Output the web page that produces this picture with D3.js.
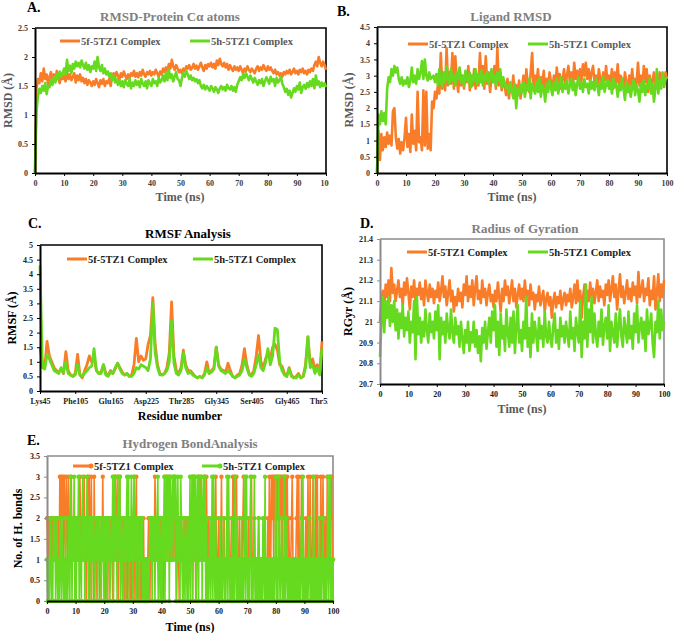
<!DOCTYPE html>
<html>
<head>
<meta charset="utf-8">
<script src="https://cdn.jsdelivr.net/npm/d3@7"></script>
<style>
  body { margin: 0; background: #fff; }
  svg text { font-family: "Liberation Serif", "Times New Roman", serif; font-weight: bold; }
</style>
</head>
<body>
<svg id="fig" width="675" height="633"></svg>
<script>
// ---- data ----
const seriesNames = ["5f-5TZ1 Complex", "5h-5TZ1 Complex"];
const timeStep = 0.5;   // ns between frames (A, B, D)
const hbondStep = 0.25; // ns between frames (E)

// A. RMSD protein C-alpha
const rmsdProt5f = [
  0, 1.45, 1.62, 1.55, 1.72, 1.58, 1.8, 1.62, 1.7, 1.52,
  1.66, 1.74, 1.58, 1.7, 1.6, 1.76, 1.64, 1.55, 1.7, 1.62,
  1.68, 1.58, 1.74, 1.62, 1.7, 1.6, 1.66, 1.72, 1.56, 1.68,
  1.6, 1.7, 1.58, 1.64, 1.55, 1.62, 1.52, 1.6, 1.56, 1.5,
  1.58, 1.52, 1.62, 1.55, 1.48, 1.6, 1.54, 1.62, 1.5, 1.58,
  1.55, 1.62, 1.5, 1.66, 1.72, 1.65, 1.74, 1.68, 1.6, 1.72,
  1.66, 1.75, 1.68, 1.62, 1.7, 1.64, 1.72, 1.68, 1.76, 1.66,
  1.72, 1.65, 1.74, 1.68, 1.78, 1.7, 1.66, 1.74, 1.7, 1.76,
  1.68, 1.74, 1.7, 1.78, 1.72, 1.66, 1.75, 1.7, 1.8, 1.74,
  1.82, 1.76, 1.88, 1.8, 1.95, 1.84, 1.78, 1.86, 1.8, 1.74,
  1.78, 1.72, 1.8, 1.76, 1.84, 1.8, 1.86, 1.78, 1.82, 1.88,
  1.8, 1.85, 1.78, 1.84, 1.9, 1.82, 1.76, 1.86, 1.8, 1.88,
  1.84, 1.9, 1.82, 1.88, 1.8, 1.94, 1.86, 1.97, 1.88, 1.84,
  1.9, 1.82, 1.88, 1.78, 1.86, 1.8, 1.76, 1.84, 1.78, 1.82,
  1.76, 1.84, 1.78, 1.72, 1.8, 1.76, 1.84, 1.78, 1.74, 1.8,
  1.76, 1.72, 1.8, 1.84, 1.76, 1.82, 1.78, 1.86, 1.8, 1.76,
  1.84, 1.78, 1.82, 1.76, 1.72, 1.78, 1.7, 1.74, 1.68, 1.72,
  1.66, 1.74, 1.7, 1.76, 1.72, 1.78, 1.7, 1.74, 1.8, 1.72,
  1.76, 1.7, 1.78, 1.74, 1.8, 1.72, 1.76, 1.7, 1.78, 1.74,
  1.8, 1.76, 1.86, 1.92, 1.84, 2.0, 1.9, 1.84, 1.92, 1.86,
  1.78
];
const rmsdProt5h = [
  0, 1.05, 1.32, 1.45, 1.38, 1.5, 1.42, 1.55, 1.36, 1.5,
  1.48, 1.6, 1.52, 1.65, 1.56, 1.7, 1.62, 1.75, 1.66, 1.72,
  1.8, 1.7, 1.95, 1.76, 1.85, 1.72, 1.88, 1.8, 1.92, 1.84,
  1.9, 1.82, 1.94, 1.86, 1.8, 1.9, 1.78, 1.86, 1.74, 1.84,
  1.8, 1.92, 1.76, 2.0, 1.82, 1.76, 1.86, 1.72, 1.8, 1.7,
  1.75, 1.66, 1.72, 1.6, 1.68, 1.56, 1.62, 1.52, 1.6, 1.5,
  1.58, 1.48, 1.6, 1.54, 1.5, 1.62, 1.46, 1.56, 1.5, 1.6,
  1.52, 1.58, 1.48, 1.62, 1.54, 1.5, 1.58, 1.46, 1.6, 1.54,
  1.5, 1.62, 1.55, 1.58, 1.5, 1.64, 1.56, 1.6, 1.68, 1.58,
  1.72, 1.6, 1.78, 1.64, 1.7, 1.58, 1.66, 1.74, 1.62, 1.6,
  1.5, 1.64, 1.72, 1.66, 1.76, 1.7, 1.62, 1.68, 1.6, 1.64,
  1.58, 1.62, 1.55, 1.6, 1.5, 1.46, 1.52, 1.44, 1.5, 1.46,
  1.42, 1.5, 1.46, 1.4, 1.48, 1.44, 1.38, 1.46, 1.5, 1.44,
  1.48, 1.42, 1.52, 1.46, 1.44, 1.5, 1.42, 1.48, 1.4, 1.52,
  1.58, 1.65, 1.6, 1.7, 1.64, 1.72, 1.66, 1.6, 1.68, 1.62,
  1.56, 1.64, 1.58, 1.52, 1.6, 1.55, 1.62, 1.5, 1.58, 1.65,
  1.6, 1.54, 1.66, 1.58, 1.62, 1.5, 1.64, 1.56, 1.6, 1.66,
  1.54, 1.48, 1.4, 1.45, 1.35, 1.42, 1.3, 1.38, 1.46, 1.4,
  1.5, 1.44, 1.56, 1.38, 1.48, 1.52, 1.45, 1.55, 1.48, 1.58,
  1.5, 1.62, 1.46, 1.68, 1.52, 1.58, 1.48, 1.56, 1.5, 1.55,
  1.48
];

// B. Ligand RMSD
const rmsdLig5f = [
  0, 1.3, 0.4, 1.2, 0.7, 1.1, 0.8, 1.25, 0.9, 1.15,
  0.85, 1.9, 2.0, 1.1, 0.75, 1.05, 0.6, 0.95, 0.7, 1.1,
  1.7, 0.8, 1.2, 0.65, 1.8, 0.9, 1.3, 0.7, 2.5, 0.95,
  1.1, 0.7, 2.55, 0.85, 2.5, 0.75, 1.2, 0.7, 2.2, 2.0,
  2.5, 2.3, 2.7, 2.45, 3.7, 2.6, 2.9, 2.55, 3.85, 2.7,
  3.1, 2.75, 3.7, 2.6, 3.6, 2.9, 2.5, 3.2, 2.7, 3.0,
  2.6, 3.1, 2.8, 3.3, 2.55, 3.0, 2.7, 3.2, 2.6, 2.95,
  2.7, 3.7, 2.8, 3.3, 2.6, 3.6, 2.75, 3.1, 2.5, 3.0,
  2.8, 3.3, 2.6, 3.85, 2.7, 3.1, 2.55, 2.9, 2.7, 2.4,
  2.9, 2.3, 2.75, 2.5, 3.0, 2.35, 2.7, 2.45, 2.85, 2.3,
  2.6, 3.0, 2.45, 3.2, 2.7, 2.5, 3.1, 3.7, 2.6, 3.0,
  2.75, 3.2, 2.6, 2.95, 2.7, 3.15, 2.5, 2.9, 2.65, 3.1,
  2.8, 2.6, 3.0, 2.7, 3.25, 2.75, 3.05, 2.6, 2.9, 3.2,
  2.7, 3.0, 3.3, 2.8, 3.1, 2.65, 3.4, 2.9, 3.15, 2.75,
  3.2, 2.85, 3.35, 3.0, 3.4, 2.9, 3.2, 2.8, 3.1, 3.3,
  2.8, 3.0, 2.7, 3.2, 2.9, 2.65, 3.1, 2.85, 3.3, 2.7,
  3.0, 2.75, 3.2, 2.6, 3.1, 2.8, 3.35, 2.7, 3.0, 2.9,
  2.6, 3.1, 2.8, 2.5, 3.0, 2.7, 3.2, 2.6, 2.9, 2.75,
  3.4, 2.7, 3.0, 2.6, 3.3, 2.8, 3.2, 2.5, 3.0, 2.7,
  2.85, 3.1, 2.6, 3.0, 2.7, 3.1, 2.8, 3.05, 2.65, 3.1,
  2.9
];
const rmsdLig5h = [
  0, 1.8, 1.5, 1.9, 1.6, 1.85, 1.5, 2.6, 2.95, 2.8,
  3.2, 3.0, 3.3, 3.1, 3.25, 2.9, 2.75, 2.95, 2.7, 2.85,
  2.75, 2.95, 2.65, 2.85, 3.25, 2.8, 3.0, 2.75, 3.2, 2.9,
  3.1, 3.45, 2.9, 3.5, 3.0, 2.85, 3.1, 2.9, 2.95, 3.0,
  2.8, 3.05, 2.7, 3.2, 2.85, 2.65, 3.1, 2.8, 3.3, 2.9,
  2.75, 3.2, 2.85, 3.0, 2.7, 3.1, 2.9, 3.25, 2.8, 3.0,
  2.7, 3.15, 2.9, 2.8, 3.1, 2.65, 3.0, 2.85, 3.2, 2.75,
  3.05, 2.8, 3.15, 2.7, 3.0, 2.85, 3.1, 2.75, 2.95, 3.2,
  2.8, 3.0, 2.7, 3.1, 2.85, 3.2, 2.65, 2.95, 2.8, 2.6,
  2.7, 2.45, 2.8, 2.55, 2.3, 2.75, 2.0, 2.6, 2.4, 2.7,
  2.5, 2.8, 2.35, 2.7, 2.55, 2.9, 2.3, 2.75, 2.6, 2.45,
  2.8, 2.5, 2.9, 2.35, 2.7, 2.6, 2.2, 2.75, 2.5, 2.85,
  2.6, 2.4, 2.8, 2.55, 2.9, 2.45, 2.7, 2.95, 2.5, 2.75,
  2.6, 2.85, 2.45, 2.7, 2.9, 2.55, 2.8, 2.4, 2.75, 2.95,
  2.6, 2.8, 2.5, 2.9, 2.65, 2.75, 2.45, 2.85, 2.6, 2.8,
  2.55, 2.9, 2.7, 2.4, 2.8, 2.6, 2.95, 2.5, 2.75, 2.85,
  2.6, 2.8, 2.45, 2.9, 2.65, 2.75, 2.35, 2.7, 2.55, 2.9,
  2.6, 2.25, 2.8, 2.5, 2.7, 2.35, 2.65, 2.85, 2.4, 2.7,
  2.55, 2.2, 2.75, 2.5, 2.85, 2.4, 2.7, 2.6, 2.9, 2.45,
  2.75, 2.2, 2.6, 3.2, 2.45, 2.85, 2.6, 3.1, 2.7, 2.9,
  2.95
];

// C. RMSF per residue (every 4th residue from Lys45)
const residueStart = 45, residueStep = 4;
const rmsf5f = [
  1.5, 1.0, 0.8, 1.7, 1.2, 1.0, 0.8, 0.7, 0.65, 0.75,
  0.6, 1.35, 0.7, 0.55, 0.5, 0.6, 1.25, 0.55, 0.45, 0.7,
  0.9, 1.2, 1.0, 1.15, 0.7, 0.6, 0.65, 0.9, 0.6, 0.55,
  0.7, 0.6, 0.75, 0.95, 0.8, 0.65, 0.55, 0.6, 0.5, 0.55,
  0.9, 1.8, 1.0, 1.2, 1.05, 1.1, 1.6, 1.9, 3.2, 1.6,
  0.9, 0.6, 0.55, 0.6, 0.8, 1.3, 3.05, 1.2, 0.7, 0.6,
  0.8, 1.4, 0.9, 0.7, 0.7, 0.6, 0.5, 0.45, 0.5, 0.45,
  0.6, 1.0, 0.6, 0.7, 0.8, 1.5, 0.9, 0.75, 0.7, 0.65,
  0.95, 0.7, 0.5, 0.45, 0.55, 0.6, 0.9, 1.45, 0.9, 0.6,
  0.55, 0.7, 1.2, 1.9, 1.0, 0.8, 1.1, 1.3, 1.1, 1.5,
  1.6, 1.4, 0.9, 0.85, 0.6, 0.5, 0.8, 0.55, 0.45, 0.5,
  0.6, 0.45, 0.5, 0.9, 1.85, 0.9, 1.1, 0.75, 0.9, 0.6,
  1.7
];
const rmsf5h = [
  4.3, 0.8, 0.75, 1.25, 1.1, 0.9, 0.7, 0.65, 0.6, 0.8,
  0.65, 1.0, 0.6, 0.55, 0.5, 0.55, 0.9, 0.55, 0.5, 0.6,
  0.7, 0.8, 0.85, 1.45, 0.7, 0.6, 0.6, 0.9, 0.55, 0.5,
  0.65, 0.6, 0.8, 0.95, 0.75, 0.6, 0.55, 0.6, 0.5, 0.5,
  0.6, 0.8, 0.75, 0.9, 0.85, 0.8, 0.7, 1.1, 3.0, 1.3,
  0.8, 0.55, 0.55, 0.6, 0.7, 1.0, 2.4, 0.95, 0.6, 0.55,
  0.7, 1.3, 0.8, 0.6, 0.65, 0.55, 0.5, 0.45, 0.5, 0.45,
  0.55, 0.8, 0.6, 0.65, 0.75, 1.5, 0.85, 0.7, 0.65, 0.6,
  0.7, 0.6, 0.5, 0.45, 0.5, 0.55, 0.7, 1.1, 0.8, 0.55,
  0.5, 0.6, 0.9, 1.25, 0.8, 0.7, 1.0, 1.45, 0.9, 1.2,
  2.15, 2.1, 1.0, 0.7, 0.55, 0.5, 0.75, 0.5, 0.45, 0.45,
  0.55, 0.45, 0.5, 0.8, 1.85, 0.8, 0.9, 0.6, 0.8, 0.55,
  1.45
];
const residueTicks = [45, 105, 165, 225, 285, 345, 405, 465, 525];
const residueLabels = ["Lys45", "Phe105", "Glu165", "Asp225", "Thr285", "Gly345", "Ser405", "Gly465", "Thr525"];

// D. Radius of gyration
const rgyr5f = [
  21.0, 21.1, 21.15, 21.08, 21.18, 21.12, 21.2, 21.1, 21.26, 21.14,
  21.18, 21.1, 21.15, 21.2, 21.12, 21.16, 21.08, 21.19, 21.13, 21.21,
  21.14, 21.06, 21.17, 21.12, 21.2, 21.1, 21.16, 21.13, 21.19, 21.11,
  21.16, 21.08, 21.2, 21.14, 21.1, 21.18, 21.12, 21.16, 21.09, 21.15,
  21.12, 21.19, 21.1, 21.15, 21.22, 21.12, 21.17, 21.08, 21.14, 21.2,
  21.1, 21.15, 21.05, 21.12, 21.08, 21.16, 21.1, 21.14, 21.07, 21.18,
  21.13, 21.22, 21.1, 21.17, 21.12, 21.2, 21.08, 21.16, 21.22, 21.11,
  21.15, 21.09, 21.2, 21.12, 21.16, 21.08, 21.14, 21.18, 21.1, 21.13,
  21.07, 21.15, 21.1, 21.19, 21.12, 21.05, 21.16, 21.1, 21.2, 21.13,
  21.17, 21.09, 21.14, 21.2, 21.1, 21.16, 21.07, 21.13, 21.18, 21.11,
  21.16, 21.1, 21.2, 21.12, 21.15, 21.08, 21.18, 21.11, 21.14, 21.06,
  21.13, 21.1, 21.17, 21.08, 21.12, 21.15, 21.05, 21.11, 21.14, 21.08,
  21.12, 21.02, 21.1, 21.14, 21.07, 21.12, 21.09, 21.15, 21.06, 21.11,
  21.14, 21.08, 21.13, 21.1, 21.16, 21.07, 21.12, 21.18, 21.09, 21.2,
  21.1, 21.15, 21.02, 21.12, 21.18, 21.08, 21.15, 21.1, 21.19, 21.12,
  21.16, 21.09, 21.14, 21.2, 21.1, 21.17, 21.12, 21.15, 21.08, 21.18,
  21.13, 21.2, 21.1, 21.16, 21.22, 21.12, 21.18, 21.06, 21.15, 21.23,
  21.12, 21.17, 21.09, 21.14, 21.2, 21.11, 21.16, 21.1, 21.19, 21.13,
  21.17, 21.09, 21.24, 21.12, 21.15, 21.2, 21.1, 21.16, 21.13, 21.21,
  21.08, 21.15, 21.11, 21.22, 21.06, 21.14, 21.23, 21.1, 21.18, 21.12,
  21.2
];
const rgyr5h = [
  20.83, 21.0, 21.12, 20.95, 21.1, 21.02, 21.12, 20.98, 21.08, 21.0,
  21.1, 20.96, 21.06, 20.92, 21.04, 20.97, 21.08, 20.93, 21.02, 20.96,
  21.05, 20.9, 21.0, 20.95, 21.1, 20.82, 21.12, 20.94, 21.02, 20.9,
  21.0, 20.93, 21.06, 20.96, 20.9, 21.04, 20.95, 21.0, 20.92, 21.05,
  20.96, 21.08, 20.82, 21.02, 20.94, 21.0, 20.9, 21.04, 20.96, 20.92,
  21.06, 20.95, 20.9, 21.02, 20.94, 20.98, 20.88, 21.0, 20.92, 20.85,
  20.96, 20.9, 21.0, 20.86, 20.95, 20.9, 21.0, 20.88, 20.96, 20.85,
  20.93, 20.81, 20.97, 20.9, 21.0, 20.87, 20.95, 21.02, 20.9, 21.05,
  20.96, 21.08, 20.88, 21.0, 20.84, 21.04, 20.92, 20.98, 20.86, 21.06,
  20.95, 20.88, 21.02, 20.9, 21.05, 20.85, 20.98, 21.08, 20.9, 20.96,
  20.86, 21.0, 20.92, 21.12, 20.88, 20.97, 20.83, 21.04, 20.9, 21.0,
  20.94, 20.86, 21.02, 20.92, 20.98, 20.88, 21.05, 20.93, 20.9, 21.0,
  20.92, 20.88, 20.98, 21.04, 20.9, 20.96, 20.87, 21.02, 20.93, 20.98,
  20.9, 21.0, 20.94, 20.88, 21.05, 20.92, 20.97, 20.86, 21.02, 20.95,
  20.9, 21.1, 20.83, 21.0, 20.92, 21.18, 20.88, 21.06, 20.95, 21.12,
  20.9, 21.04, 20.94, 20.88, 21.0, 20.93, 21.06, 20.89, 20.98, 21.02,
  20.92, 21.08, 20.86, 21.0, 20.95, 20.9, 21.04, 20.88, 20.98, 21.06,
  20.93, 20.88, 21.02, 20.96, 20.9, 21.05, 20.92, 20.98, 20.87, 21.04,
  20.95, 21.08, 20.9, 20.98, 21.02, 20.92, 21.0, 20.86, 21.06, 20.94,
  20.98, 21.04, 20.9, 20.83, 21.0, 20.95, 21.1, 20.92, 21.06, 20.96,
  21.0
];

// E. Hydrogen bonds (one row = 5 ns)
const hbond5f = [
  2,1,2,0,2,1,2,1,2,1,2,1,2,1,2,1,2,1,3,1,
  3,2,3,1,3,2,1,3,2,1,3,2,1,2,3,1,2,1,2,1,
  2,1,2,1,2,1,3,2,1,2,1,2,3,1,2,0,2,3,1,3,
  0,2,3,1,2,0,3,1,2,1,0,2,1,2,0,1,2,1,3,1,
  0,1,0,2,1,0,2,1,2,1,2,1,0,2,3,1,3,2,1,3,
  0,2,3,1,2,1,2,1,0,1,2,0,1,0,2,1,0,2,0,1,
  0,1,3,0,1,3,0,1,0,2,0,1,0,1,0,2,0,1,0,1,
  0,1,2,1,0,2,1,2,1,2,1,3,2,1,2,1,0,2,1,2,
  1,2,1,0,2,3,1,2,3,1,2,3,1,2,1,2,1,2,3,1,
  2,0,1,2,1,0,2,1,2,1,0,2,1,2,1,2,1,2,1,2,
  1,2,1,3,2,3,1,2,0,2,1,2,3,1,2,3,1,2,1,2,
  3,1,1,3,1,1,2,1,1,1,2,1,1,1,1,2,3,1,1,1,
  2,1,1,1,3,1,1,1,2,0,1,1,1,2,1,1,1,1,2,1,
  3,1,3,1,1,3,1,1,1,2,1,1,1,1,2,3,1,1,1,1,
  1,1,2,1,1,1,3,1,1,1,2,1,0,1,1,1,2,1,1,1,
  1,0,1,1,2,1,1,1,1,2,1,3,1,1,3,2,3,1,3,2,
  3,1,3,2,3,1,3,2,3,1,3,2,3,1,3,2,3,1,2,1,
  1,1,2,3,1,1,1,1,1,2,3,1,3,1,1,1,3,1,1,1,
  1,1,2,1,1,3,1,1,3,1,1,1,3,1,1,1,3,1,3,1,
  1,1,1,3,1,1,3,1,1,2,1,1,3,1,1,1,3,2,3,1,
  1
];
const hbond5h = [
  1,0,1,0,1,2,0,1,0,2,1,2,0,1,2,0,1,0,2,1,
  0,2,1,0,1,0,2,0,1,0,2,1,0,3,2,0,2,1,3,0,
  2,0,2,1,3,0,2,1,0,2,3,1,2,0,2,1,3,2,0,2,
  1,2,0,2,1,2,1,0,2,1,2,0,2,1,2,1,0,2,1,2,
  0,2,1,2,0,2,1,2,0,1,2,1,3,0,2,3,1,2,0,3,
  2,1,3,0,2,1,0,2,1,2,0,2,3,1,3,0,2,1,3,2,
  0,2,3,1,2,0,2,1,2,0,1,2,1,2,0,1,0,1,0,1,
  0,1,0,1,2,1,2,0,2,1,2,0,2,1,2,3,0,2,1,0,
  2,0,2,1,3,0,2,3,1,2,3,0,2,3,1,2,3,1,3,2,
  3,0,2,3,1,2,0,3,2,1,0,2,1,0,2,1,0,2,0,1,
  3,0,2,3,0,2,3,1,3,0,2,3,0,3,1,2,3,0,2,3,
  1,3,0,2,0,1,0,1,2,0,1,3,0,3,1,0,2,0,1,0,
  1,0,2,0,1,0,1,2,0,1,0,1,3,0,3,1,0,1,0,2,
  0,1,0,3,1,0,2,0,1,0,1,0,2,0,1,0,1,3,0,3,
  1,0,1,0,2,3,0,1,0,1,3,0,1,0,1,0,2,0,1,0,
  1,0,2,1,0,3,0,1,0,1,0,1,0,1,0,1,0,1,0,1,
  3,0,1,0,3,1,0,1,2,0,1,0,3,0,1,2,0,1,0,1,
  0,1,0,1,0,1,0,1,0,1,0,1,0,1,0,1,2,0,3,0,
  1,0,1,0,1,0,1,2,0,1,0,1,0,3,0,1,0,1,0,1,
  0,2,0,1,0,1,2,0,1,0,1,0,1,3,0,1,3,0,1,0,
  1
];

// tick values
const timeTicks = [0, 10, 20, 30, 40, 50, 60, 70, 80, 90, 100];
const yTicksA = [0, 0.5, 1, 1.5, 2, 2.5];
const yTicksB = [0, 0.5, 1, 1.5, 2, 2.5, 3, 3.5, 4, 4.5];
const yTicksC = [0, 0.5, 1, 1.5, 2, 2.5, 3, 3.5, 4, 4.5, 5];
const yTicksD = [20.7, 20.8, 20.9, 21, 21.1, 21.2, 21.3, 21.4];
const yTicksE = [0, 0.5, 1, 1.5, 2, 2.5, 3, 3.5];

const ORANGE = "#F97D28";
const GREEN = "#66DA1E";
const GRAY = "#7f7f7f";

const svg = d3.select("#fig");
const defs = svg.append("defs");

const byTime = (arr, step) => arr.map((v, i) => ({ x: i * step, y: v }));
const byResidue = arr => arr.map((v, i) => ({ x: residueStart + i * residueStep, y: v }));

function drawPanel(o) {
    const g = svg.append("g");
    if (o.clipRight) {
        const id = "clip-" + o.letter;
        defs.append("clipPath").attr("id", id)
            .append("rect").attr("x", 0).attr("y", 0).attr("width", o.clipRight).attr("height", 633);
        g.attr("clip-path", `url(#${id})`);
    }

    const x = d3.scaleLinear().domain(o.xDomain).range([o.left, o.right]);
    const y = d3.scaleLinear().domain(o.yDomain).range([o.bottom, o.top]);

    // top / right frame
    g.append("path")
        .attr("d", `M${o.left},${o.top}H${o.right}V${o.bottom}`)
        .attr("fill", "none")
        .attr("stroke", o.frameColor)
        .attr("stroke-width", 1.6);

    // series
    const line = d3.line().x(d => x(d.x)).y(d => y(d.y));
    o.series.forEach((s, k) => {
        const color = k === 0 ? ORANGE : GREEN;
        g.append("path")
            .datum(s)
            .attr("d", line)
            .attr("fill", "none")
            .attr("stroke", color)
            .attr("stroke-width", o.lineWidth)
            .attr("stroke-linejoin", "round");
        if (o.markers) {
            g.append("g").selectAll("circle")
                .data(s)
                .join("circle")
                .attr("cx", d => x(d.x))
                .attr("cy", d => y(d.y))
                .attr("r", 2.2)
                .attr("fill", color);
        }
    });

    // axes
    const fmt = d => String(+d.toFixed(1));
    const yAx = g.append("g")
        .attr("transform", `translate(${o.left},0)`)
        .call(d3.axisLeft(y).tickValues(o.yTicks).tickFormat(fmt).tickSize(3).tickSizeOuter(0).tickPadding(4));
    yAx.select(".domain").attr("stroke", o.yAxisColor).attr("stroke-width", 2);
    yAx.selectAll(".tick line").attr("stroke", o.yAxisColor);

    const xAxis = d3.axisBottom(x).tickValues(o.xTicks).tickSize(3).tickSizeOuter(0).tickPadding(4);
    if (o.xLabels) xAxis.tickFormat((d, i) => o.xLabels[i]);
    const xAx = g.append("g")
        .attr("transform", `translate(0,${o.bottom})`)
        .call(xAxis);
    xAx.select(".domain").attr("stroke", "#000").attr("stroke-width", 2);

    g.selectAll(".tick text")
        .attr("fill", o.tickColor)
        .style("font-size", "8px")
        .style("font-family", "'Liberation Serif', serif")
        .style("font-weight", "bold");

    // panel letter
    svg.append("text")
        .attr("x", o.letterX).attr("y", o.letterY)
        .attr("fill", "#000")
        .style("font-size", "14px")
        .text(o.letter + ".");

    // title
    svg.append("text")
        .attr("x", o.titleX).attr("y", o.titleY)
        .attr("text-anchor", "middle")
        .attr("fill", o.titleColor)
        .style("font-size", "13px")
        .text(o.title);

    // axis labels
    g.append("text")
        .attr("x", o.xLabelX).attr("y", o.xLabelY)
        .attr("text-anchor", "middle")
        .attr("fill", o.xLabelColor)
        .style("font-size", "12px")
        .text(o.xLabel);

    g.append("text")
        .attr("transform", `translate(${o.yLabelX},${(o.top + o.bottom) / 2}) rotate(-90)`)
        .attr("text-anchor", "middle")
        .attr("dy", "0.35em")
        .attr("fill", o.yLabelColor)
        .style("font-size", "12px")
        .text(o.yLabel);

    // legend
    o.legendX.forEach((lx, k) => {
        const color = k === 0 ? ORANGE : GREEN;
        svg.append("line")
            .attr("x1", lx).attr("x2", lx + 20)
            .attr("y1", o.legendY).attr("y2", o.legendY)
            .attr("stroke", color).attr("stroke-width", 3);
        if (o.markers) {
            svg.append("circle").attr("cx", lx + 18).attr("cy", o.legendY).attr("r", 2.5).attr("fill", color);
        }
        svg.append("text")
            .attr("x", lx + 21).attr("y", o.legendY)
            .attr("dy", "0.35em")
            .attr("fill", o.legendColor)
            .style("font-size", "10.5px")
            .text(seriesNames[k]);
    });
}

// A.
drawPanel({
    letter: "A", letterX: 27, letterY: 12,
    title: "RMSD-Protein C\u03b1 atoms", titleX: 170, titleY: 21, titleColor: GRAY,
    left: 35, right: 326, top: 28, bottom: 173, clipRight: 329,
    xDomain: [0, 100], yDomain: [0, 2.5], xTicks: timeTicks, yTicks: yTicksA,
    series: [byTime(rmsdProt5f, timeStep), byTime(rmsdProt5h, timeStep)], lineWidth: 2.6,
    frameColor: "#000", yAxisColor: "#000", tickColor: "#404040",
    xLabel: "Time (ns)", xLabelX: 180, xLabelY: 201, xLabelColor: "#595959",
    yLabel: "RMSD (\u00c5)", yLabelX: 8, yLabelColor: "#595959",
    legendX: [60, 190], legendY: 41, legendColor: "#595959"
});

// B.
drawPanel({
    letter: "B", letterX: 337, letterY: 16,
    title: "Ligand RMSD", titleX: 511, titleY: 21, titleColor: GRAY,
    left: 377, right: 667, top: 27, bottom: 173,
    xDomain: [0, 100], yDomain: [0, 4.5], xTicks: timeTicks, yTicks: yTicksB,
    series: [byTime(rmsdLig5f, timeStep), byTime(rmsdLig5h, timeStep)], lineWidth: 2.6,
    frameColor: "#000", yAxisColor: "#000", tickColor: "#404040",
    xLabel: "Time (ns)", xLabelX: 512, xLabelY: 201, xLabelColor: "#595959",
    yLabel: "RMSD (\u00c5)", yLabelX: 349, yLabelColor: "#595959",
    legendX: [408, 528], legendY: 44, legendColor: "#595959"
});

// C.
drawPanel({
    letter: "C", letterX: 28, letterY: 228,
    title: "RMSF Analysis", titleX: 188, titleY: 238, titleColor: "#000",
    left: 40, right: 322, top: 245, bottom: 391, clipRight: 328,
    xDomain: [45, 525], yDomain: [0, 5], xTicks: residueTicks, xLabels: residueLabels, yTicks: yTicksC,
    series: [byResidue(rmsf5f), byResidue(rmsf5h)], lineWidth: 2.8,
    frameColor: "#000", yAxisColor: "#000", tickColor: "#222",
    xLabel: "Residue number", xLabelX: 180, xLabelY: 420, xLabelColor: "#000",
    yLabel: "RMSF (\u00c5)", yLabelX: 12, yLabelColor: "#000",
    legendX: [67, 193], legendY: 259, legendColor: "#222"
});

// D.
drawPanel({
    letter: "D", letterX: 360, letterY: 228,
    title: "Radius of Gyration", titleX: 525, titleY: 233, titleColor: GRAY,
    left: 380, right: 664, top: 239, bottom: 384,
    xDomain: [0, 100], yDomain: [20.7, 21.4], xTicks: timeTicks, yTicks: yTicksD,
    series: [byTime(rgyr5f, timeStep), byTime(rgyr5h, timeStep)], lineWidth: 2.6,
    frameColor: "#8c8c8c", yAxisColor: "#8c8c8c", tickColor: "#222",
    xLabel: "Time (ns)", xLabelX: 522, xLabelY: 413, xLabelColor: "#595959",
    yLabel: "RGyr (\u00c5)", yLabelX: 348, yLabelColor: "#000",
    legendX: [407, 528], legendY: 252, legendColor: "#222"
});

// E.
drawPanel({
    letter: "E", letterX: 27, letterY: 445,
    title: "Hydrogen  BondAnalysis", titleX: 190, titleY: 448, titleColor: GRAY,
    left: 47, right: 333, top: 456, bottom: 601,
    xDomain: [0, 100], yDomain: [0, 3.5], xTicks: timeTicks, yTicks: yTicksE,
    series: [byTime(hbond5f, hbondStep), byTime(hbond5h, hbondStep)], lineWidth: 1.6, markers: true,
    frameColor: "#8c8c8c", yAxisColor: "#8c8c8c", tickColor: "#222",
    xLabel: "Time (ns)", xLabelX: 190, xLabelY: 631, xLabelColor: "#000",
    yLabel: "No. of H. bonds", yLabelX: 18, yLabelColor: "#000",
    legendX: [73, 202], legendY: 466, legendColor: "#222"
});
</script>
</body>
</html>
